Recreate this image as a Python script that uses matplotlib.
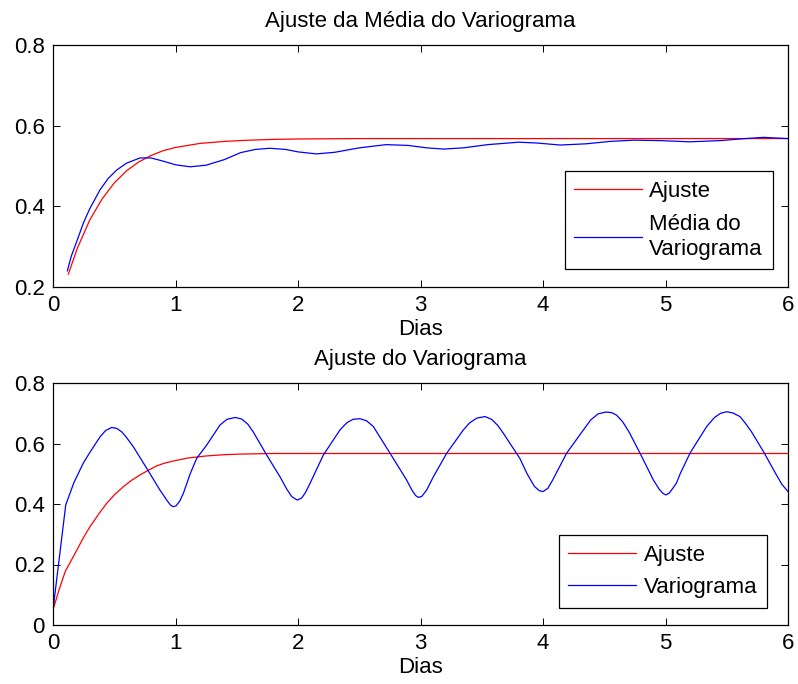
import matplotlib
matplotlib.use('Agg')
import matplotlib.pyplot as plt

plt.rcParams['font.family'] = ['Liberation Sans', 'DejaVu Sans']

# top panel: mean variogram and fit
media_x = [0.117, 0.15, 0.2, 0.247, 0.3, 0.384, 0.45, 0.52, 0.6, 0.71, 0.8, 0.9, 1.0,
           1.12, 1.25, 1.4, 1.53, 1.65, 1.77, 1.9, 2.0, 2.15, 2.3, 2.5, 2.72,
           2.9, 3.05, 3.19, 3.35, 3.55, 3.8, 3.95, 4.14, 4.35, 4.55, 4.74, 4.95,
           5.2, 5.45, 5.65, 5.8, 6.0]
media_y = [0.240, 0.277, 0.318, 0.358, 0.394, 0.441, 0.469, 0.490, 0.507, 0.520, 0.520,
           0.512, 0.503, 0.498, 0.502, 0.516, 0.533, 0.541, 0.544, 0.541, 0.535,
           0.530, 0.534, 0.545, 0.553, 0.551, 0.545, 0.542, 0.545, 0.553, 0.559,
           0.557, 0.552, 0.555, 0.561, 0.564, 0.563, 0.560, 0.563, 0.568, 0.571,
           0.568]
ajuste1_x = [0.125, 0.2, 0.3, 0.4, 0.5, 0.6, 0.7, 0.8, 0.9, 1.0, 1.2, 1.4, 1.6,
             1.8, 2.0, 2.5, 3.0, 4.0, 5.0, 6.0]
ajuste1_y = [0.232, 0.297, 0.366, 0.418, 0.458, 0.488, 0.510, 0.526, 0.538, 0.546,
             0.556, 0.561, 0.564, 0.566, 0.567, 0.568, 0.568, 0.568, 0.568, 0.568]

# bottom panel: variogram and fit
vario_x = [0.0, 0.104, 0.17, 0.247, 0.3, 0.384, 0.43, 0.479, 0.52, 0.56, 0.6, 0.656,
           0.765, 0.873, 0.93, 0.96, 0.982, 1.005, 1.035, 1.064, 1.12, 1.173, 1.255,
           1.363, 1.42, 1.486, 1.54, 1.59, 1.635, 1.744, 1.853, 1.91, 1.95, 1.994,
           2.03, 2.06, 2.098, 2.207, 2.343, 2.4, 2.45, 2.506, 2.56, 2.615, 2.751,
           2.887, 2.93, 2.96, 2.982, 3.01, 3.05, 3.105, 3.214, 3.35, 3.4, 3.46,
           3.527, 3.58, 3.63, 3.676, 3.812, 3.87, 3.93, 3.97, 4.0, 4.04, 4.08, 4.193,
           4.33, 4.39, 4.45, 4.514, 4.56, 4.6, 4.65, 4.7, 4.792, 4.9, 4.95, 4.98,
           5.004, 5.03, 5.06, 5.09, 5.12, 5.2, 5.336, 5.4, 5.45, 5.5, 5.55, 5.608,
           5.65, 5.7, 5.8, 5.9, 5.95, 6.0]
vario_y = [0.050, 0.397, 0.470, 0.535, 0.570, 0.622, 0.643, 0.653, 0.650, 0.639, 0.620,
           0.589, 0.518, 0.446, 0.412, 0.396, 0.391, 0.394, 0.410, 0.435, 0.500, 0.551,
           0.595, 0.661, 0.680, 0.686, 0.681, 0.664, 0.638, 0.562, 0.490, 0.448, 0.424,
           0.413, 0.420, 0.437, 0.468, 0.562, 0.645, 0.669, 0.680, 0.682, 0.675, 0.656,
           0.568, 0.479, 0.446, 0.428, 0.422, 0.425, 0.446, 0.490, 0.568, 0.645, 0.668,
           0.684, 0.689, 0.680, 0.660, 0.634, 0.550, 0.500, 0.458, 0.444, 0.441, 0.452,
           0.480, 0.568, 0.645, 0.678, 0.698, 0.704, 0.702, 0.694, 0.672, 0.640, 0.568,
           0.480, 0.448, 0.435, 0.430, 0.436, 0.452, 0.470, 0.500, 0.568, 0.656, 0.686,
           0.700, 0.705, 0.701, 0.689, 0.668, 0.640, 0.573, 0.500, 0.465, 0.441]
ajuste2_x = [0.0, 0.05, 0.1, 0.166, 0.25, 0.302, 0.375, 0.438, 0.5, 0.574, 0.64,
             0.71, 0.78, 0.846, 0.91, 0.982, 1.1, 1.255, 1.4, 1.527, 1.8, 2.2, 3.0,
             4.0, 5.0, 6.0]
ajuste2_y = [0.050, 0.117, 0.177, 0.226, 0.290, 0.325, 0.368, 0.402, 0.430, 0.457, 0.478,
             0.496, 0.512, 0.526, 0.535, 0.542, 0.552, 0.559, 0.563, 0.565, 0.567, 0.567,
             0.567, 0.567, 0.567, 0.567]

FS = 16

fig = plt.figure(figsize=(7.98, 6.84), dpi=100)
ax1 = fig.add_axes([53 / 798, 1 - 287 / 684, 735 / 798, 242 / 684])
ax2 = fig.add_axes([53 / 798, 1 - 625 / 684, 735 / 798, 242 / 684])


def style(ax, yticks, title):
    ax.set_xlim(0, 6)
    ax.set_xticks(range(7))
    ax.set_yticks(yticks)
    ax.set_ylim(yticks[0], yticks[-1])
    ax.set_yticklabels([('%g' % v) for v in yticks])
    ax.tick_params(direction='in', top=True, right=True, length=5, width=0.7,
                   labelsize=FS)
    ax.tick_params(axis='x', pad=6)
    ax.tick_params(axis='y', pad=6)
    for s in ax.spines.values():
        s.set_linewidth(0.9)
    ax.set_xlabel('Dias', fontsize=FS, labelpad=2)
    ax.set_title(title, fontsize=FS, pad=13)


ax1.plot(ajuste1_x, ajuste1_y, color='red', lw=0.9, label='Ajuste')
ax1.plot(media_x, media_y, color='blue', lw=0.9, label='Média do\nVariograma')
style(ax1, [0.2, 0.4, 0.6, 0.8], 'Ajuste da Média do Variograma')

ax2.plot(ajuste2_x, ajuste2_y, color='red', lw=0.9, label='Ajuste')
ax2.plot(vario_x, vario_y, color='blue', lw=0.9, label='Variograma')
style(ax2, [0, 0.2, 0.4, 0.6, 0.8], 'Ajuste do Variograma')

for ax, anchor in [(ax1, (0.979, 0.074)), (ax2, (0.971, 0.0715))]:
    leg = ax.legend(loc='lower right', bbox_to_anchor=anchor, borderaxespad=0,
                    fontsize=FS, fancybox=False, framealpha=1, edgecolor='black',
                    handlelength=3.06, handletextpad=0.32, borderpad=0.43,
                    labelspacing=0.52)
    leg.get_frame().set_linewidth(0.9)
    for t in leg.get_texts():
        t.set_linespacing(1.25)

fig.savefig('out.png', dpi=100)
